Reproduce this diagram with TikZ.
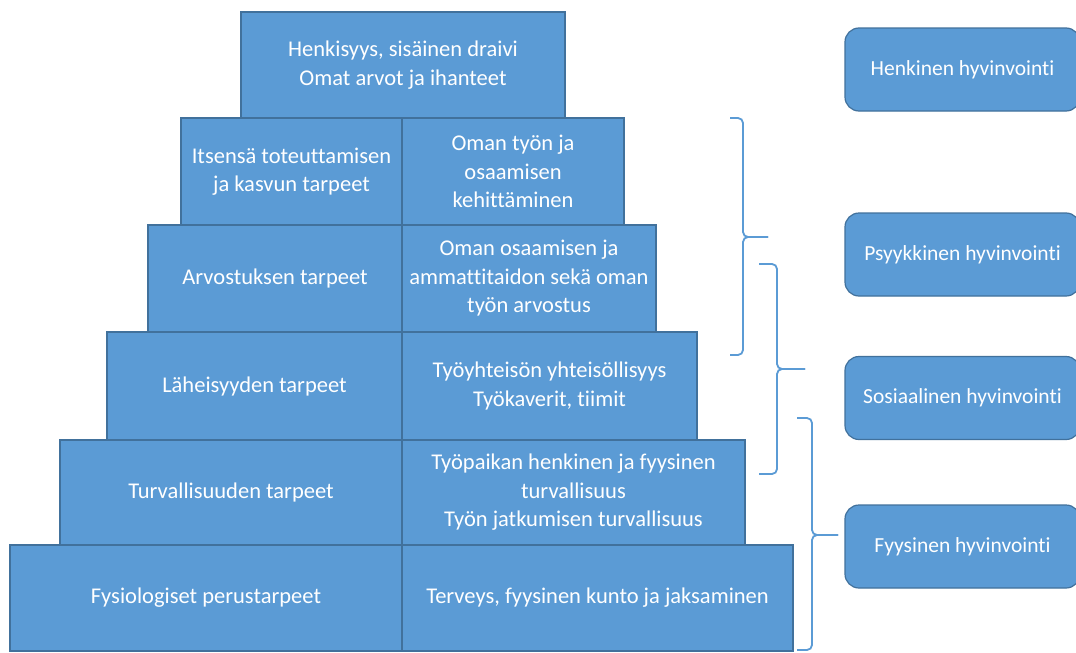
\documentclass[tikz,border=0pt]{standalone}
\usepackage{fontspec}
\setmainfont{Carlito}[Ligatures={NoCommon}]
\definecolor{fillblue}{HTML}{5B9BD5}
\definecolor{edgeblue}{HTML}{41719C}
\definecolor{braceblue}{HTML}{5B9BD5}
\begin{document}
\begin{tikzpicture}[x=1pt,y=-1pt,
  cell/.style={draw=edgeblue, fill=fillblue, line width=1.2pt, text=white, align=center,
    inner sep=0pt, font=\fontsize{22.5}{28.5}\selectfont},
  sidebox/.style={draw=edgeblue, fill=fillblue, line width=1.2pt, text=white, align=center,
    rounded corners=14pt, inner sep=0pt, minimum width=235pt, minimum height=83pt,
    font=\fontsize{21.5}{24}\selectfont},
  bracepath/.style={draw=braceblue, line width=1.8pt, rounded corners=5pt}]
\useasboundingbox (0,0) rectangle (1076,653);
\fill[white] (0,0) rectangle (1076,653);
% pyramid
\node[cell, minimum width=324pt, minimum height=106pt] (top) at (403,65) {Henkisyys, sisäinen draivi\\Omat arvot ja ihanteet};
\node[cell, minimum width=221pt, minimum height=107pt] (r2l) at (291.5,171.5) {Itsensä toteuttamisen\\ja kasvun tarpeet};
\node[cell, minimum width=222pt, minimum height=107pt] (r2r) at (513,171.5) {Oman työn ja\\osaamisen\\kehittäminen};
\node[cell, minimum width=254pt, minimum height=107pt] (r3l) at (275,278.5) {Arvostuksen tarpeet};
\node[cell, minimum width=254pt, minimum height=107pt] (r3r) at (529,278.5) {Oman osaamisen ja\\ammattitaidon sekä oman\\työn arvostus};
\node[cell, minimum width=295pt, minimum height=108pt] (r4l) at (254.5,386) {Läheisyyden tarpeet};
\node[cell, minimum width=295pt, minimum height=108pt] (r4r) at (549.5,386) {Työyhteisön yhteisöllisyys\\Työkaverit, tiimit};
\node[cell, minimum width=342pt, minimum height=105pt] (r5l) at (231,492.5) {Turvallisuuden tarpeet};
\node[cell, minimum width=343pt, minimum height=105pt] (r5r) at (573.5,492.5) {Työpaikan henkinen ja fyysinen\\turvallisuus\\Työn jatkumisen turvallisuus};
\node[cell, minimum width=392pt, minimum height=106pt] (r6l) at (206,598) {Fysiologiset perustarpeet};
\node[cell, minimum width=391pt, minimum height=106pt] (r6r) at (597.5,598) {Terveys, fyysinen kunto ja jaksaminen};
% side boxes
\node[sidebox] (henk) at (962.5,69.5) {Henkinen hyvinvointi};
\node[sidebox] (psyk) at (962.5,254.5) {Psyykkinen hyvinvointi};
\node[sidebox] (sos) at (962.5,398) {Sosiaalinen hyvinvointi};
\node[sidebox] (fyys) at (962.5,546.5) {Fyysinen hyvinvointi};
% braces
\coordinate (b1t) at (730,118); \coordinate (b1b) at (730,355); \coordinate (b1m) at (743,237); \coordinate (b1p) at (768,237);
\coordinate (b2t) at (759,264); \coordinate (b2b) at (759,474); \coordinate (b2m) at (777,369); \coordinate (b2p) at (805,369);
\coordinate (b3t) at (797,418); \coordinate (b3b) at (797,650); \coordinate (b3m) at (812,535); \coordinate (b3p) at (838,535);
\draw[bracepath] (b1t) -| (b1m) -- (b1p);
\draw[bracepath] (b1b) -| (b1m) -- (b1p);
\draw[bracepath] (b2t) -| (b2m) -- (b2p);
\draw[bracepath] (b2b) -| (b2m) -- (b2p);
\draw[bracepath] (b3t) -| (b3m) -- (b3p);
\draw[bracepath] (b3b) -| (b3m) -- (b3p);
\end{tikzpicture}
\end{document}
